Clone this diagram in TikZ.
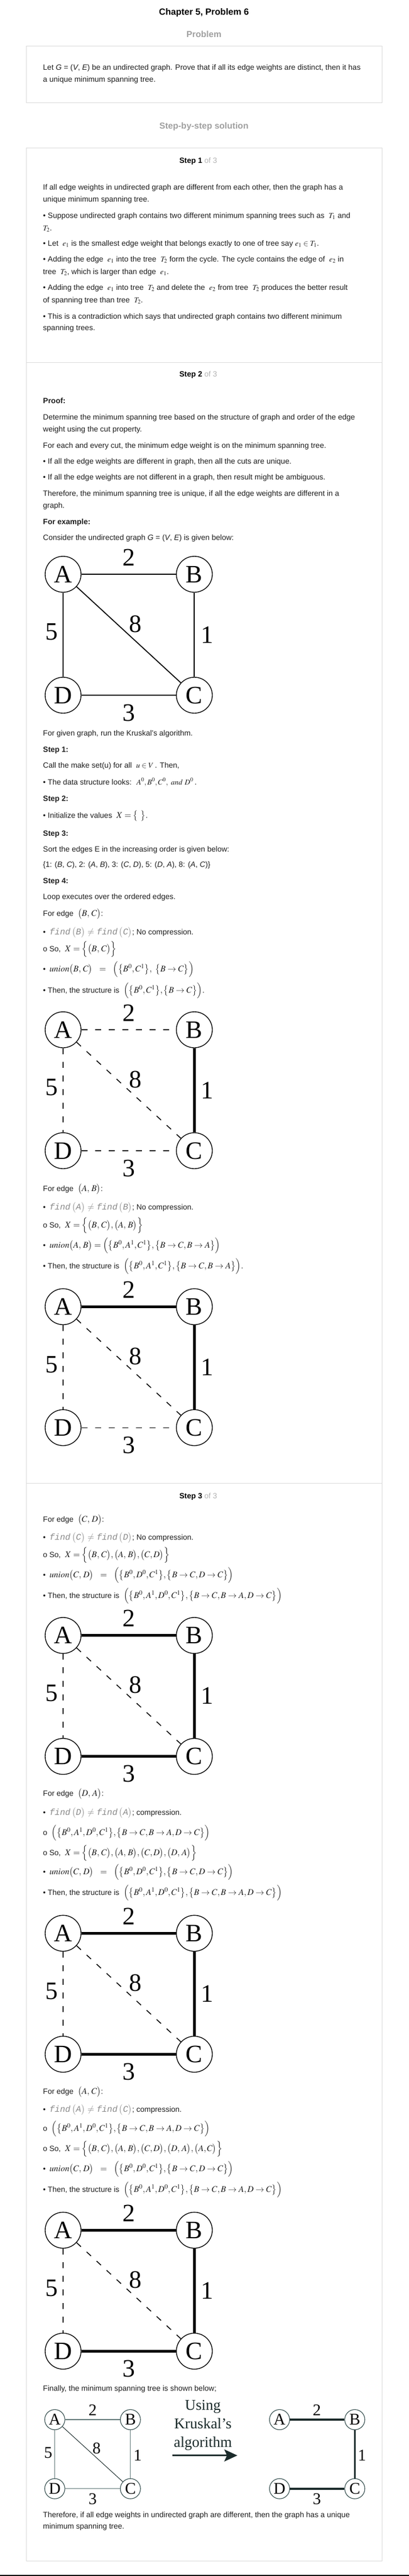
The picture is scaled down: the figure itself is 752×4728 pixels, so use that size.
\documentclass[tikz,border=0pt]{standalone}
\usepackage{mathptmx}
\usepackage[no-math]{fontspec}
\setmainfont{Liberation Sans}
\newfontfamily\srf{Liberation Serif}
\newfontfamily\mnf{Liberation Mono}
\usetikzlibrary{arrows.meta}
\definecolor{boxc}{HTML}{DADADA}
\definecolor{headg}{HTML}{A0A0A0}
\definecolor{ofg}{HTML}{B4B4B4}
\definecolor{txtc}{HTML}{1E1E1E}
\definecolor{fndc}{HTML}{8A8A8A}
\definecolor{tealc}{HTML}{2E4848}
\definecolor{tealedge}{HTML}{5E7676}
\definecolor{darkedge}{HTML}{1B2B2B}
\newcommand{\mm}[1]{$#1$}
\newcommand{\MM}[1]{{\fontsize{16}{19}\selectfont$#1$}}
\newcommand{\fnd}[1]{{\color{fndc}\fontsize{16}{19}\selectfont{\mnf\itshape find}\,$\bigl(${\mnf\itshape #1}$\bigr)$}}
\newcommand{\neqg}{{\color{fndc}\fontsize{16}{19}\selectfont\ $\neq$\ }}
\newcommand{\tline}[3]{\node[tx] (#1) at (79,-#2) {#3};}
\newcommand{\Sfour}{\MM{\Bigl(\bigl\{B^0,A^1,D^0,C^1\bigr\},\bigl\{B\to C,B\to A,D\to C\bigr\}\Bigr)}}
\newcommand{\Ucd}{\MM{\mathit{union}\bigl(C,\,D\bigr)\ \ =\ \ \Bigl(\bigl\{B^0,D^0,C^1\bigr\},\bigl\{B\to C,D\to C\bigr\}\Bigr)}}
\tikzset{
 tx/.style={anchor=base west, inner sep=0pt, text=txtc, font=\fontsize{14}{17}\selectfont},
 ttl/.style={anchor=base, inner sep=0pt, text=black, font=\bfseries\fontsize{16.5}{20}\selectfont},
 hdr/.style={anchor=base, inner sep=0pt, text=headg, font=\bfseries\fontsize{16}{20}\selectfont},
 stp/.style={anchor=base, inner sep=0pt, text=black, font=\fontsize{14}{17}\selectfont},
 bx/.style={draw=boxc, line width=1pt},
 gv/.style={circle, draw=black, line width=1.4pt, minimum size=66pt, inner sep=0pt, font=\srf\fontsize{46}{46}\selectfont},
 gw/.style={inner sep=0pt, font=\srf\fontsize{46}{46}\selectfont},
 eN/.style={line width=1.8pt},
 eT/.style={line width=4.8pt},
 eD/.style={line width=1.6pt, dash pattern=on 11pt off 14pt},
 sv/.style={circle, draw=tealc, line width=1.1pt, minimum size=37pt, inner sep=0pt, font=\srf\fontsize{30}{30}\selectfont},
 sw/.style={inner sep=0pt, font=\srf\fontsize{30}{30}\selectfont},
 sE/.style={draw=tealedge, line width=1.3pt},
 sT/.style={draw=darkedge, line width=3.6pt},
 kt/.style={anchor=base, inner sep=0pt, font=\srf\fontsize{27.5}{30}\selectfont, text=darkedge}
}
\newcommand{\kgraph}[7]{%
 \node[gv] (#1A) at (116,-#2) {A};
 \node[gv] (#1B) at (357.3,-#2) {B};
 \node[gv] (#1C) at (357.3,-#2-222) {C};
 \node[gv] (#1D) at (116,-#2-222) {D};
 \draw[#3] (#1A) -- (#1B);
 \draw[#4] (#1B) -- (#1C);
 \draw[#5] (#1D) -- (#1C);
 \draw[#6] (#1A) -- (#1D);
 \draw[#7] (#1A) -- (#1C);
 \node[gw] (#1w2) at (237.4,-#2+31) {2};
 \node[gw] (#1w8) at (249.4,-#2-91) {8};
 \node[gw] (#1w5) at (94.5,-#2-106) {5};
 \node[gw] (#1w1) at (381,-#2-111) {1};
 \node[gw] (#1w3) at (237.4,-#2-254) {3};
}
\begin{document}
\begin{tikzpicture}[x=1pt,y=1pt]
\useasboundingbox (0,0) rectangle (752,-4728);
\fill[white] (0,0) rectangle (752,-4728);
\fill[black] (0,-4726) rectangle (752,-4728);

\node[ttl] (title) at (375,-27.3) {Chapter 5, Problem 6};
\node[hdr] (hprob) at (375,-68.3) {Problem};
\draw[bx] (48,-84.3) rectangle (702.6,-188.3);
\tline{p1}{128.7}{Let \textit{G} = (\textit{V}, \textit{E}) be an undirected graph. Prove that if all its edge weights are distinct, then it has}
\tline{p2}{150.7}{a unique minimum spanning tree.}
\node[hdr] (hsol) at (375,-236) {Step-by-step solution};
\draw[bx] (48,-271) rectangle (702.6,-4700);

% Step 1
\node[stp] (s1) at (364.5,-299) {\textbf{Step 1} {\color{ofg}of 3}};
\tline{a1}{348.3}{If all edge weights in undirected graph are different from each other, then the graph has a}
\tline{a2}{370}{unique minimum spanning tree.}
\tline{a3}{400}{• Suppose undirected graph contains two different minimum spanning trees such as \ \mm{T_1}\ and}
\tline{a4}{423.3}{\mm{T_2}.}
\tline{a5}{451.7}{• Let \ \mm{e_1}\ is the smallest edge weight that belongs exactly to one of tree say \mm{e_1\in T_1}.}
\tline{a6}{480.7}{• Adding the edge \ \mm{e_1}\ into the tree \ \mm{T_2}\ form the cycle. The cycle contains the edge of \ \mm{e_2}\ in}
\tline{a7}{503.3}{tree \ \mm{T_2}, which is larger than edge \ \mm{e_1}.}
\tline{a8}{532.7}{• Adding the edge \ \mm{e_1}\ into tree \ \mm{T_2}\ and delete the \ \mm{e_2}\ from tree \ \mm{T_2}\ produces the better result}
\tline{a9}{555}{of spanning tree than tree \ \mm{T_2}.}
\tline{a10}{585}{• This is a contradiction which says that undirected graph contains two different minimum}
\tline{a11}{606.7}{spanning trees.}

% Step 2
\draw[bx] (48,-665.7) -- (702.6,-665.7);
\node[stp] (s2) at (364.5,-691.7) {\textbf{Step 2} {\color{ofg}of 3}};
\tline{b1}{740.7}{\textbf{Proof:}}
\tline{b2}{770.7}{Determine the minimum spanning tree based on the structure of graph and order of the edge}
\tline{b3}{792.7}{weight using the cut property.}
\tline{b4}{822.7}{For each and every cut, the minimum edge weight is on the minimum spanning tree.}
\tline{b5}{851.7}{• If all the edge weights are different in graph, then all the cuts are unique.}
\tline{b6}{880.7}{• If all the edge weights are not different in a graph, then result might be ambiguous.}
\tline{b7}{910.7}{Therefore, the minimum spanning tree is unique, if all the edge weights are different in a}
\tline{b8}{932.7}{graph.}
\tline{b9}{962.7}{\textbf{For example:}}
\tline{b10}{991.7}{Consider the undirected graph \textit{G} = (\textit{V}, \textit{E}) is given below:}
\kgraph{g1}{1054}{eN}{eN}{eN}{eN}{eN}
\tline{b11}{1350}{For given graph, run the Kruskal’s algorithm.}
\tline{b12}{1380}{\textbf{Step 1:}}
\tline{b13}{1409.3}{Call the make set(u) for all \ \mm{u\in V}\,. Then,}
\tline{b14}{1440}{• The data structure looks: \ \mm{A^0, B^0, C^0,\ \mathit{and}\ D^0}\,.}
\tline{b15}{1470}{\textbf{Step 2:}}
\tline{b16}{1501}{• Initialize the values \ \MM{X=\bigl\{\ \bigr\}}.}
\tline{b17}{1534}{\textbf{Step 3:}}
\tline{b18}{1563.3}{Sort the edges E in the increasing order is given below:}
\tline{b19}{1591.7}{\{1: (\textit{B}, \textit{C}), 2: (\textit{A}, \textit{B}), 3: (\textit{C}, \textit{D}), 5: (\textit{D}, \textit{A}), 8: (\textit{A}, \textit{C})\}}
\tline{b20}{1621.7}{\textbf{Step 4:}}
\tline{b21}{1650.7}{Loop executes over the ordered edges.}
\tline{b22}{1681.7}{For edge \ \MM{\bigl(B,\,C\bigr)}:}
\tline{b23}{1715}{•\hspace{7pt}\fnd{B}\neqg\fnd{C}; No compression.}
\tline{b24}{1746.7}{o So, \ \MM{X=\Bigl\{\bigl(B,\,C\bigr)\Bigr\}}}
\tline{b25}{1783.3}{•\hspace{7pt}\MM{\mathit{union}\bigl(B,\,C\bigr)\ \ =\ \ \Bigl(\bigl\{B^0,C^1\bigr\},\ \bigl\{B\to C\bigr\}\Bigr)}}
\tline{b26}{1822.3}{• Then, the structure is \ \MM{\Bigl(\bigl\{B^0,C^1\bigr\},\bigl\{B\to C\bigr\}\Bigr)}.}
\kgraph{g2}{1890}{eD}{eT}{eD}{eD}{eD}
\tline{b27}{2186.7}{For edge \ \MM{\bigl(A,\,B\bigr)}:}
\tline{b28}{2220}{•\hspace{7pt}\fnd{A}\neqg\fnd{B}; No compression.}
\tline{b29}{2253.3}{o So, \ \MM{X=\Bigl\{\bigl(B,\,C\bigr),\bigl(A,\,B\bigr)\Bigr\}}}
\tline{b30}{2290}{•\hspace{7pt}\MM{\mathit{union}\bigl(A,\,B\bigr)=\Bigl(\bigl\{B^0,A^1,C^1\bigr\},\bigl\{B\to C,B\to A\bigr\}\Bigr)}}
\tline{b31}{2328.3}{• Then, the structure is \ \MM{\Bigl(\bigl\{B^0,A^1,C^1\bigr\},\bigl\{B\to C,B\to A\bigr\}\Bigr)}.}
\kgraph{g3}{2398.3}{eT}{eT}{eD}{eD}{eD}

% Step 3
\draw[bx] (48,-2722.3) -- (702.6,-2722.3);
\node[stp] (s3) at (364.5,-2750) {\textbf{Step 3} {\color{ofg}of 3}};
\tline{c1}{2793.3}{For edge \ \MM{\bigl(C,\,D\bigr)}:}
\tline{c2}{2826.7}{•\hspace{7pt}\fnd{C}\neqg\fnd{D}; No compression.}
\tline{c3}{2858.3}{o So, \ \MM{X=\Bigl\{\bigl(B,\,C\bigr),\bigl(A,\,B\bigr),\bigl(C,D\bigr)\Bigr\}}}
\tline{c4}{2895}{•\hspace{7pt}\Ucd}
\tline{c5}{2933.3}{• Then, the structure is \ \Sfour}
\kgraph{g4}{3001.7}{eT}{eT}{eT}{eD}{eD}
\tline{c6}{3296.7}{For edge \ \MM{\bigl(D,\,A\bigr)}:}
\tline{c7}{3331.7}{•\hspace{7pt}\fnd{D}\neqg\fnd{A}; compression.}
\tline{c8}{3368.3}{o \ \Sfour}
\tline{c9}{3405}{o So, \ \MM{X=\Bigl\{\bigl(B,\,C\bigr),\bigl(A,\,B\bigr),\bigl(C,D\bigr),\bigl(D,\,A\bigr)\Bigr\}}}
\tline{c10}{3440}{•\hspace{7pt}\Ucd}
\tline{c11}{3478.3}{• Then, the structure is \ \Sfour}
\kgraph{g5}{3548.3}{eT}{eT}{eT}{eD}{eD}
\tline{c12}{3843.3}{For edge \ \MM{\bigl(A,\,C\bigr)}:}
\tline{c13}{3876.7}{•\hspace{7pt}\fnd{A}\neqg\fnd{C}; compression.}
\tline{c14}{3911.7}{o \ \Sfour}
\tline{c15}{3948.3}{o So, \ \MM{X=\Bigl\{\bigl(B,\,C\bigr),\bigl(A,\,B\bigr),\bigl(C,D\bigr),\bigl(D,\,A\bigr),\bigl(A,C\bigr)\Bigr\}}}
\tline{c16}{3985}{•\hspace{7pt}\Ucd}
\tline{c17}{4023.3}{• Then, the structure is \ \Sfour}
\kgraph{g6}{4093.3}{eT}{eT}{eT}{eD}{eD}
\tline{c18}{4388.3}{Finally, the minimum spanning tree is shown below;}

% final figure: left graph
\node[sv] (fA) at (100.7,-4441) {A};
\node[sv] (fB) at (239.8,-4441) {B};
\node[sv] (fC) at (239.8,-4567.7) {C};
\node[sv] (fD) at (100.7,-4567.7) {D};
\draw[sE] (fA) -- (fB);
\draw[sE] (fB) -- (fC);
\draw[sE] (fD) -- (fC);
\draw[sE] (fA) -- (fD);
\draw[draw=darkedge, line width=1pt] (fA) -- (fC);
\node[sw] (fw2) at (170.3,-4423.3) {2};
\node[sw] (fw8) at (177.5,-4493.3) {8};
\node[sw] (fw5) at (88.7,-4501.7) {5};
\node[sw] (fw1) at (253.2,-4506.7) {1};
\node[sw] (fw3) at (170.3,-4586.7) {3};
% middle text and arrow
\node[kt] (k1) at (373,-4423.3) {Using};
\node[kt] (k2) at (373,-4457.3) {Kruskal’s};
\node[kt] (k3) at (373,-4491.7) {algorithm};
\coordinate (ar1) at (316.5,-4506.7);
\coordinate (ar2) at (436.4,-4506.7);
\draw[draw=darkedge, line width=3pt, -{Stealth[length=24pt,width=22pt,inset=5pt]}] (ar1) -- (ar2);
% right graph
\node[sv] (rA) at (514,-4441) {A};
\node[sv] (rB) at (652.3,-4441) {B};
\node[sv] (rC) at (652.3,-4567.7) {C};
\node[sv] (rD) at (514,-4567.7) {D};
\draw[sT] (rA) -- (rB);
\draw[sT] (rB) -- (rC);
\draw[sT] (rD) -- (rC);
\node[sw] (rw2) at (582.7,-4423.3) {2};
\node[sw] (rw1) at (665.7,-4506.7) {1};
\node[sw] (rw3) at (582.7,-4586.7) {3};

\tline{c19}{4620}{Therefore, if all edge weights in undirected graph are different, then the graph has a unique}
\tline{c20}{4641.7}{minimum spanning tree.}
\end{tikzpicture}
\end{document}
